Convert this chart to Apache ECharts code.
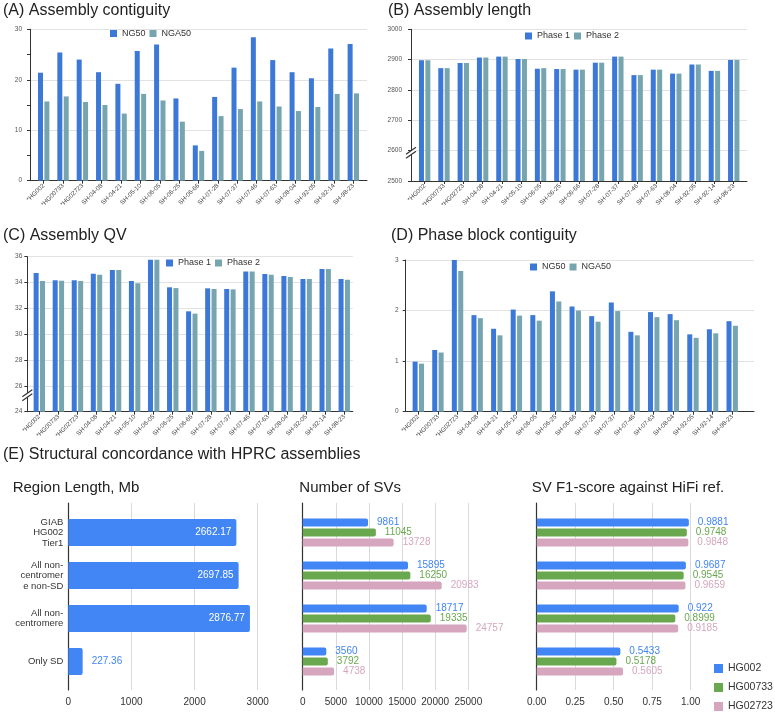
<!DOCTYPE html>
<html><head><meta charset="utf-8">
<script src="https://cdn.jsdelivr.net/npm/echarts@6/dist/echarts.min.js"></script>
<style>html,body{margin:0;padding:0;background:#fff}#c{width:775px;height:717px}</style>
</head><body><div id="c"></div>
<script>
// ---------- DATA ----------
const categories = ['*HG002','*HG00733','*HG02723','SH-04-08','SH-04-21','SH-05-10','SH-06-05','SH-06-25','SH-06-66','SH-07-28','SH-07-37','SH-07-46','SH-07-63','SH-08-04','SH-92-05','SH-92-14','SH-98-23'];
const contigNG50  = [21.4,25.4,24.0,21.5,19.2,25.7,27.0,16.3,7.0,16.6,22.4,28.4,23.9,21.5,20.3,26.2,27.1];
const contigNGA50 = [15.7,16.7,15.6,15.0,13.3,17.2,15.9,11.7,5.9,12.8,14.2,15.7,14.7,13.8,14.6,17.2,17.3];
const lengthPhase1 = [2898,2872,2889,2907,2910,2902,2870,2869,2867,2890,2910,2849,2867,2854,2884,2863,2899];
const lengthPhase2 = [2898,2872,2889,2907,2910,2902,2872,2869,2867,2890,2910,2849,2867,2854,2884,2863,2899];
const qvPhase1 = [34.74,34.17,34.17,34.68,34.97,34.12,35.77,33.63,31.77,33.55,33.50,34.86,34.66,34.50,34.27,35.05,34.27];
const qvPhase2 = [34.12,34.14,34.12,34.60,34.97,33.94,35.77,33.57,31.59,33.50,33.47,34.86,34.60,34.43,34.27,35.05,34.22];
const phaseNG50  = [0.99,1.22,3.00,1.91,1.64,2.02,1.91,2.38,2.08,1.89,2.16,1.58,1.97,1.93,1.53,1.63,1.79];
const phaseNGA50 = [0.95,1.17,2.78,1.85,1.51,1.90,1.80,2.18,2.00,1.78,1.99,1.51,1.87,1.81,1.46,1.55,1.70];

const regionCategories = ['GIAB\nHG002\nTier1','All non-\ncentromer\ne non-SD','All non-\ncentromere','Only SD'];
const regionLength = [2662.17,2697.85,2876.77,227.36];
const svHG002   = [9861,15895,18717,3560];
const svHG00733 = [11045,16250,19335,3792];
const svHG02723 = [13728,20983,24757,4738];
const f1HG002   = [0.9881,0.9687,0.922,0.5433];
const f1HG00733 = [0.9748,0.9545,0.8999,0.5178];
const f1HG02723 = [0.9848,0.9659,0.9185,0.5605];

// ---------- STYLE ----------
const FONT = '"Liberation Sans", Arial, sans-serif';
const BLUE = '#3c78d8', TEAL = '#76a5af';
const E_BLUE = '#4285f4', E_GREEN = '#6aa84f', E_PINK = '#d5a6bd';
const plain = v => String(v);

const grids = [], xAxes = [], yAxes = [], series = [], legends = [], titles = [];
function addGrid(box){ grids.push(Object.assign({outerBoundsMode:'none', containLabel:false, show:false}, box)); return grids.length-1; }
function addTitle(text, left, top, size){
  titles.push({text, left, top, padding:0, textStyle:{fontSize:size, fontWeight:'normal', color:'#222', fontFamily:FONT}});
}

function vPanel(p){
  const bg = addGrid({left:p.bgLeft, width:p.bgWidth, top:p.top, height:p.height});
  xAxes.push({gridIndex:bg, type:'value', min:0, max:1, axisLine:{show:true, onZero:false, lineStyle:{color:'#333', width:1}}, axisTick:{show:false}, axisLabel:{show:false}, splitLine:{show:false}});
  const bgX = xAxes.length-1;
  yAxes.push({gridIndex:bg, type:'value', min:p.min, max:p.max, interval:p.interval,
    axisLine:{show:true, onZero:false, lineStyle:{color:'#333', width:1}},
    axisTick:{show:true, length:3, lineStyle:{color:'#333'}},
    minorTick:{show:!!p.minor, splitNumber:2, length:3, lineStyle:{color:'#333'}},
    minorSplitLine:{show:false},
    axisLabel:{fontSize:6.5, color:'#555', margin:p.labelMargin, fontFamily:FONT, formatter:plain},
    splitLine:{show:true, lineStyle:{color:'#e2e2e2', width:1}}});
  const bgY = yAxes.length-1;
  const g = addGrid({left:p.left, width:p.width, top:p.top, height:p.height});
  xAxes.push({gridIndex:g, type:'category', data:p.cats, axisLine:{show:false},
    axisTick:{show:true, alignWithLabel:true, length:3, lineStyle:{color:'#333'}},
    axisLabel:{rotate:45, fontSize:6.3, color:'#444', margin:4, interval:0, fontFamily:FONT},
    splitLine:{show:false}});
  const xi = xAxes.length-1;
  yAxes.push({gridIndex:g, type:'value', min:p.min, max:p.max, show:false});
  const yi = yAxes.length-1;
  p.series.forEach(s => series.push({type:'bar', name:s.name, xAxisIndex:xi, yAxisIndex:yi, data:s.data,
    barWidth:5, barGap:'28%', itemStyle:{color:s.color}}));
  legends.push({data:p.series.map(s=>s.name), left:p.legendLeft, top:p.legendTop, itemWidth:7, itemHeight:7, itemGap:4,
    padding:0, icon:'rect', selectedMode:false, textStyle:{fontSize:9, color:'#333', fontFamily:FONT}});
  addTitle(p.title, p.titleLeft, p.titleTop, 16);
  return {bgX, bgY};
}

function hPanel(p){
  const bg = addGrid({left:p.left, width:p.width, top:503, height:187});
  xAxes.push({gridIndex:bg, type:'value', min:0, max:p.max, interval:p.interval,
    axisLine:{show:false}, axisTick:{show:false},
    axisLabel:{fontSize:10, color:'#333', margin:7, fontFamily:FONT, formatter:p.fmt || plain},
    splitLine:{show:true, lineStyle:{color:'#d9d9d9', width:1}}});
  yAxes.push({gridIndex:bg, type:'value', min:0, max:1, axisLine:{show:true, onZero:false, lineStyle:{color:'#333', width:1.2}},
    axisTick:{show:false}, axisLabel:{show:false}, splitLine:{show:false}});
  const g = addGrid({left:p.left, width:p.width, top:511, height:172});
  xAxes.push({gridIndex:g, type:'value', min:0, max:p.max, show:false});
  const xi = xAxes.length-1;
  yAxes.push({gridIndex:g, type:'category', inverse:true, data:regionCategories,
    axisLine:{show:false}, axisTick:{show:false},
    axisLabel:{show:!!p.showCats, fontSize:9.5, lineHeight:10.5, color:'#333', margin:5, fontFamily:FONT, align:'right'}});
  const yi = yAxes.length-1;
  p.series.forEach(s => series.push(Object.assign({type:'bar', name:s.name, xAxisIndex:xi, yAxisIndex:yi,
    barWidth:p.barWidth, barGap:'25%', itemStyle:{color:s.color, borderRadius:[0,2,2,0]},
    label:{show:true, position:'right', distance:9, fontSize:10, color:s.color, fontFamily:FONT}}, s.extra || {}, {data:s.data})));
  addTitle(p.title, p.titleLeft, 480, 15);
}

const A = vPanel({title:'(A) Assembly contiguity', titleLeft:3, titleTop:3, cats:categories,
  bgLeft:30, bgWidth:337, left:34, width:329, top:29.3, height:151.4, min:0, max:30, interval:10, minor:true, labelMargin:8,
  legendLeft:110, legendTop:29,
  series:[{name:'NG50', data:contigNG50, color:BLUE},{name:'NGA50', data:contigNGA50, color:TEAL}]});
const B = vPanel({title:'(B) Assembly length', titleLeft:388, titleTop:3, cats:categories,
  bgLeft:411, bgWidth:336, left:415, width:328.4, top:29.3, height:151.7, min:2500, max:3000, interval:100, labelMargin:9,
  legendLeft:525, legendTop:31.5,
  series:[{name:'Phase 1', data:lengthPhase1, color:BLUE},{name:'Phase 2', data:lengthPhase2, color:TEAL}]});
const C = vPanel({title:'(C) Assembly QV', titleLeft:3, titleTop:227.5, cats:categories,
  bgLeft:27.3, bgWidth:325.5, left:29.8, width:324, top:256.7, height:155, min:24, max:36, interval:2, labelMargin:5,
  legendLeft:166, legendTop:258.5,
  series:[{name:'Phase 1', data:qvPhase1, color:BLUE},{name:'Phase 2', data:qvPhase2, color:TEAL}]});
const D = vPanel({title:'(D) Phase block contiguity', titleLeft:391, titleTop:227.5, cats:categories,
  bgLeft:405.7, bgWidth:348.3, left:408.5, width:333.5, top:260, height:151.7, min:0, max:3, interval:1, labelMargin:7,
  legendLeft:530, legendTop:262.5,
  series:[{name:'NG50', data:phaseNG50, color:BLUE},{name:'NGA50', data:phaseNGA50, color:TEAL}]});

addTitle('(E) Structural concordance with HPRC assemblies', 3, 447, 16);

hPanel({title:'Region Length, Mb', titleLeft:12.7, left:68.3, width:189.4, max:3000, interval:1000, showCats:true, barWidth:27,
  series:[{name:'Region Length, Mb', color:E_BLUE,
    data: regionLength.map(v => v > 1000 ? {value:v} : {value:v, label:{position:'right', color:E_BLUE, distance:9}}),
    extra:{label:{show:true, position:'insideRight', distance:5, fontSize:10, color:'#fff', fontFamily:FONT}}}]});
hPanel({title:'Number of SVs', titleLeft:299.3, left:302.7, width:165.6, max:25000, interval:5000, barWidth:8,
  series:[{name:'HG002', data:svHG002, color:E_BLUE},{name:'HG00733', data:svHG00733, color:E_GREEN},{name:'HG02723', data:svHG02723, color:E_PINK}]});
hPanel({title:'SV F1-score against HiFi ref.', titleLeft:531.7, left:536.7, width:154, max:1, interval:0.25, barWidth:8,
  fmt: v => v.toFixed(2),
  series:[{name:'HG002', data:f1HG002, color:E_BLUE},{name:'HG00733', data:f1HG00733, color:E_GREEN},{name:'HG02723', data:f1HG02723, color:E_PINK}]});

legends.push({data:['HG002','HG00733','HG02723'], orient:'vertical', left:714, top:663, itemWidth:9, itemHeight:9, itemGap:8,
  padding:0, icon:'rect', selectedMode:false, textStyle:{fontSize:10.5, color:'#333', fontFamily:FONT}});

const chart = echarts.init(document.getElementById('c'), null, {renderer:'canvas'});
chart.setOption({animation:false, backgroundColor:'#fff', textStyle:{fontFamily:FONT},
  title:titles, grid:grids, xAxis:xAxes, yAxis:yAxes, series, legend:legends});

// axis break marks on B and C
function breakMark(ax, val){
  const x = chart.convertToPixel({xAxisIndex:ax.bgX}, 0);
  const y = chart.convertToPixel({yAxisIndex:ax.bgY}, val);
  return [
    {type:'polygon', shape:{points:[[x-5,y+0.5],[x+5,y-6.5],[x+5,y-2.5],[x-5,y+4.5]]}, style:{fill:'#fff'}, z:100},
    {type:'line', shape:{x1:x-5, y1:y+0.5, x2:x+5, y2:y-6.5}, style:{stroke:'#333', lineWidth:1.2}, z:101},
    {type:'line', shape:{x1:x-5, y1:y+4.5, x2:x+5, y2:y-2.5}, style:{stroke:'#333', lineWidth:1.2}, z:101}
  ];
}
chart.setOption({graphic:[...breakMark(B, 2590), ...breakMark(C, 25.2)]});
</script></body></html>
